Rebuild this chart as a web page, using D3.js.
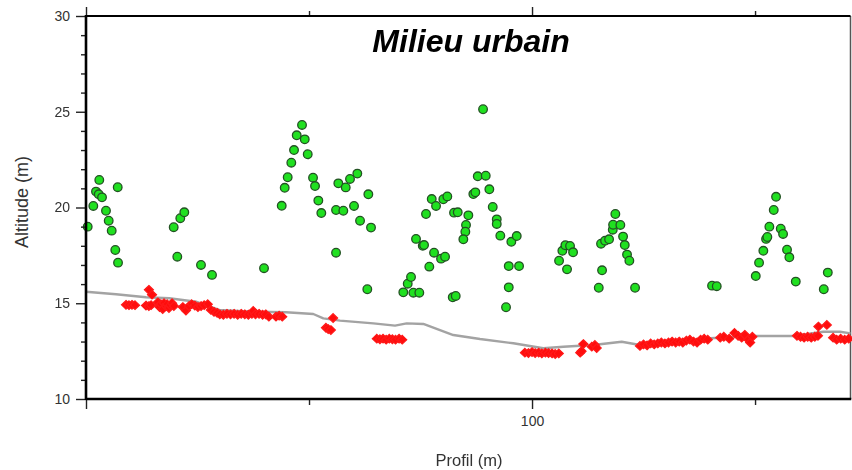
<!DOCTYPE html>
<html><head><meta charset="utf-8">
<script src="https://cdn.jsdelivr.net/npm/d3@7"></script>
<style>
html,body{margin:0;padding:0;background:#fff;}
svg{display:block;}
text{font-family:"Liberation Sans",Arial,sans-serif;}
</style></head>
<body>
<svg id="chart" width="852" height="470"></svg>
<script>
// ---------- data ----------
const title = "Milieu urbain";
const xLabel = "Profil (m)";
const yLabel = "Altitude (m)";
const xDomain = [0, 171.4];
const yDomain = [10, 30];
const yMajorTicks = [10, 15, 20, 25, 30];
const yMinorTicks = [11,12,13,14,16,17,18,19,21,22,23,24,26,27,28,29];
const xMajorTicks = [0, 100];
const xMinorTicks = [50, 150];
const xTickLabels = {100: "100"};

// green circles (Profil, Altitude)
const greenPoints = [
[0.38,19.0],[1.64,20.08],[2.24,20.83],[2.85,20.69],[2.98,21.44],[3.59,20.53],[4.48,19.83],[5.09,19.31],[5.76,18.79],[6.57,17.78],[7.18,17.12],[7.11,21.06],
[19.66,18.97],[21.14,19.44],[22.04,19.75],[20.47,17.43],[25.78,17.0],[28.25,16.48],[39.91,16.83],
[43.88,20.09],[44.55,21.03],[45.22,21.58],[46.03,22.34],[46.64,23.0],[47.24,23.77],[48.43,24.31],[49.04,23.56],[49.71,22.78],[50.90,21.56],[51.35,21.12],[52.09,20.36],[52.76,19.71],
[56.06,19.87],[57.69,19.83],[56.57,21.26],[58.23,21.05],[59.19,21.49],[60.83,21.77],[60.09,20.08],[61.44,19.31],[63.30,20.69],[63.90,18.95],[56.06,17.64],[63.07,15.73],
[71.14,15.57],[72.13,16.02],[72.87,16.37],[73.39,15.55],[74.73,15.55],[73.99,18.36],[75.50,18.0],[75.79,18.04],[78.03,17.64],[76.97,16.91],
[79.60,17.33],[80.50,17.43],[76.23,19.66],[77.51,20.44],[78.48,20.08],[80.11,20.43],[81.01,20.58],[82.22,15.31],[82.89,15.38],[82.51,19.73],
[83.34,19.75],[85.72,19.59],[85.20,19.09],[85.05,18.74],[84.60,18.34],[86.84,20.70],[87.29,20.79],[87.83,21.63],[89.62,21.66],[89.02,25.13],
[90.43,20.95],[91.19,20.03],[92.09,19.38],[92.09,19.14],[92.89,18.53],[95.36,18.21],[96.57,18.51],[94.78,16.94],[97.09,16.94],[94.78,15.83],[94.17,14.79],
[106.80,17.74],[107.47,18.03],[108.52,17.99],[109.20,17.66],[106.06,17.22],[107.85,16.77],
[114.96,15.81],[115.70,16.72],[115.47,18.11],[116.37,18.27],[117.27,18.34],[118.10,18.84],[118.17,19.10],[118.68,19.66],[119.80,19.09],[120.41,18.48],[120.79,18.04],[121.30,17.54],[121.82,17.22],[123.10,15.81],
[140.36,15.92],[141.41,15.89],
[150.16,16.42],[150.90,17.12],[151.86,17.74],[152.47,18.36],[152.76,18.46],[153.21,19.0],[154.19,19.87],[154.71,20.56],[155.76,18.89],[156.28,18.62],[157.17,17.80],[157.69,17.40],[159.13,16.13],[165.41,15.73],[166.31,16.60]
];

// red diamonds (Profil, Altitude)
const redPoints = [
[8.97,14.92],[9.64,14.9],[10.31,14.92],[10.99,14.9],
[13.45,14.88],[14.1,14.85],[14.6,14.9],[14.1,15.7],[14.8,15.45],
[16.1,15.05],[16.5,14.8],[16.8,14.95],[17.2,14.7],[17.5,15.0],[17.9,14.85],[18.2,14.95],[18.6,14.75],[18.9,14.9],[19.3,15.0],[19.7,14.85],
[21.7,14.8],[22.4,14.62],[23.1,14.85],[23.7,14.95],[24.4,14.88],[25.1,14.8],[25.8,14.85],[26.5,14.9],[27.3,14.95],
[28.0,14.65],[28.7,14.55],[29.4,14.5],
[30.0,14.42],[30.8,14.4],[31.6,14.45],[32.4,14.42],[33.2,14.45],[34.0,14.4],[34.8,14.45],[35.6,14.42],[36.4,14.4],[37.2,14.45],[37.5,14.6],[38.0,14.42],[38.8,14.45],[39.6,14.4],[40.3,14.42],[41.0,14.3],
[42.6,14.3],[43.3,14.35],[44.0,14.3],
[53.8,13.72],[54.3,13.65],[54.9,13.6],[55.4,14.23],
[65.2,13.15],[65.9,13.12],[66.6,13.15],[67.3,13.1],[68.0,13.15],[68.7,13.12],[69.4,13.1],[70.2,13.15],[70.9,13.1],
[98.4,12.42],[99.2,12.4],[100.0,12.45],[100.7,12.4],[101.5,12.42],[102.2,12.38],[103.0,12.42],[103.7,12.4],[104.5,12.38],[105.2,12.35],[106.0,12.38],
[110.8,12.42],[111.1,12.5],[111.5,12.87],[113.4,12.73],[114.1,12.82],[114.5,12.66],
[124.2,12.77],[125.0,12.85],[125.8,12.8],[126.6,12.9],[127.4,12.85],[128.2,12.9],[129.0,12.95],[129.8,12.9],[130.6,12.95],[131.4,13.0],[132.2,12.95],[133.0,13.0],[133.8,12.95],[134.6,13.05],[135.4,13.1],[136.2,13.0],[137.0,12.95],[137.8,13.1],[138.6,13.15],[139.4,13.1],
[142.2,13.2],[143.0,13.25],[144.2,13.15],[145.4,13.45],[146.2,13.3],[147.0,13.2],[147.7,13.35],[148.5,13.1],[148.9,12.95],[149.4,13.25],
[159.4,13.3],[160.2,13.25],[161.0,13.2],[161.8,13.25],[162.6,13.2],[163.4,13.25],[164.1,13.3],
[164.2,13.78],[166.1,13.87],
[167.5,13.2],[168.3,13.1],[169.2,13.15],[170.1,13.1],[171.0,13.15]
];

// ground profile (grey line)
const groundProfil = [0,6.73,13.45,18.68,24.66,29.89,37.38,44.84,50.96,53.21,56.95,64.42,69.28,71.90,75.63,82.35,88.34,95.81,102.53,107.02,110.76,113.74,120.11,124.21,132.3,139.91,149.62,158.59,165.31,169.06,171.4];
const groundAltitude = [15.6,15.47,15.31,15.26,15.08,14.65,14.56,14.53,14.44,14.21,14.09,13.95,13.83,13.95,13.92,13.34,13.13,12.91,12.65,12.73,12.78,12.82,12.99,12.82,13.0,13.17,13.29,13.29,13.51,13.51,13.43];

// ---------- drawing ----------
const svg = d3.select("#chart");
const L = 86, R = 850.5, T = 16, B = 399;
const x = d3.scaleLinear().domain(xDomain).range([L, R]);
const y = d3.scaleLinear().domain(yDomain).range([B, T]);

svg.append("rect").attr("width",852).attr("height",470).attr("fill","#fff");

const defs = svg.append("defs");
defs.append("filter").attr("id","soft").append("feGaussianBlur").attr("stdDeviation",0.4);

// right border
svg.append("line").attr("x1",R).attr("x2",R).attr("y1",T).attr("y2",B)
  .attr("stroke","#555").attr("stroke-width",1.5);

// ground line
svg.append("path")
  .datum(groundProfil.map((p,i)=>[p, groundAltitude[i]]))
  .attr("fill","none").attr("stroke","#a3a3a3").attr("stroke-width",2.4)
  .attr("stroke-linejoin","round")
  .attr("d", d3.line().x(d=>x(d[0])).y(d=>y(d[1])));

// wide diamond symbol
const wideDiamond = {
  draw(ctx, size){
    const w = Math.sqrt(size)*0.75, h = Math.sqrt(size)*0.72;
    ctx.moveTo(0,-h); ctx.lineTo(w,0); ctx.lineTo(0,h); ctx.lineTo(-w,0); ctx.closePath();
  }
};
svg.append("g").attr("filter","url(#soft)").selectAll("path").data(redPoints).join("path")
  .attr("transform", d=>`translate(${x(d[0])},${y(d[1])})`)
  .attr("d", d3.symbol().type(wideDiamond).size(36))
  .attr("fill","#ff0d0d").attr("stroke","#ff1a1a").attr("stroke-width",1.2);

// green circles
svg.append("g").selectAll("circle").data(greenPoints).join("circle")
  .attr("cx", d=>x(d[0])).attr("cy", d=>y(d[1])).attr("r",4.3)
  .attr("fill","#20e020").attr("stroke","#235223").attr("stroke-width",1.3);

// axes
function styleAxis(g){
  g.select(".domain").remove();
  g.selectAll(".tick line").attr("stroke","#222").attr("stroke-width",1.4);
  g.selectAll(".tick text").attr("fill","#333").attr("font-size","14px")
    .attr("font-family","'Liberation Sans',Arial,sans-serif");
}
svg.append("g").attr("transform",`translate(${L},0)`)
  .call(d3.axisLeft(y).tickValues(yMajorTicks).tickSize(10).tickPadding(6).tickFormat(d3.format("d")))
  .call(styleAxis);
svg.append("g").attr("transform",`translate(${L},0)`)
  .call(d3.axisLeft(y).tickValues(yMinorTicks).tickSize(5).tickFormat(""))
  .call(styleAxis);
svg.append("g").attr("transform",`translate(0,${B})`)
  .call(d3.axisBottom(x).tickValues(xMajorTicks).tickSize(10).tickPadding(7).tickFormat(d=>xTickLabels[d]||""))
  .call(styleAxis);
svg.append("g").attr("transform",`translate(0,${B})`)
  .call(d3.axisBottom(x).tickValues(xMinorTicks).tickSize(6).tickFormat(""))
  .call(styleAxis);
svg.append("g").attr("transform",`translate(0,${T})`)
  .call(d3.axisTop(x).tickValues(xMajorTicks).tickSize(9).tickFormat(""))
  .call(styleAxis);
svg.append("g").attr("transform",`translate(0,${T})`)
  .call(d3.axisTop(x).tickValues(xMinorTicks).tickSize(5).tickFormat(""))
  .call(styleAxis);

// frame lines (left, top, bottom)
svg.append("line").attr("x1",L).attr("x2",L).attr("y1",T-1).attr("y2",B+1).attr("stroke","#000").attr("stroke-width",2.6);
svg.append("line").attr("x1",L).attr("x2",R).attr("y1",T).attr("y2",T).attr("stroke","#000").attr("stroke-width",2.2);
svg.append("line").attr("x1",L).attr("x2",R+0.75).attr("y1",B).attr("y2",B).attr("stroke","#000").attr("stroke-width",2.4);

// labels
svg.append("text").attr("x",471).attr("y",52).attr("text-anchor","middle")
  .attr("font-size","32px").attr("font-weight","bold").attr("font-style","italic").attr("fill","#000")
  .text(title);
svg.append("text").attr("x",469).attr("y",466).attr("text-anchor","middle")
  .attr("font-size","16.5px").attr("fill","#333").text(xLabel);
svg.append("text").attr("transform","translate(28,202) rotate(-90)").attr("text-anchor","middle")
  .attr("font-size","18px").attr("fill","#333").text(yLabel);
</script>
</body></html>
